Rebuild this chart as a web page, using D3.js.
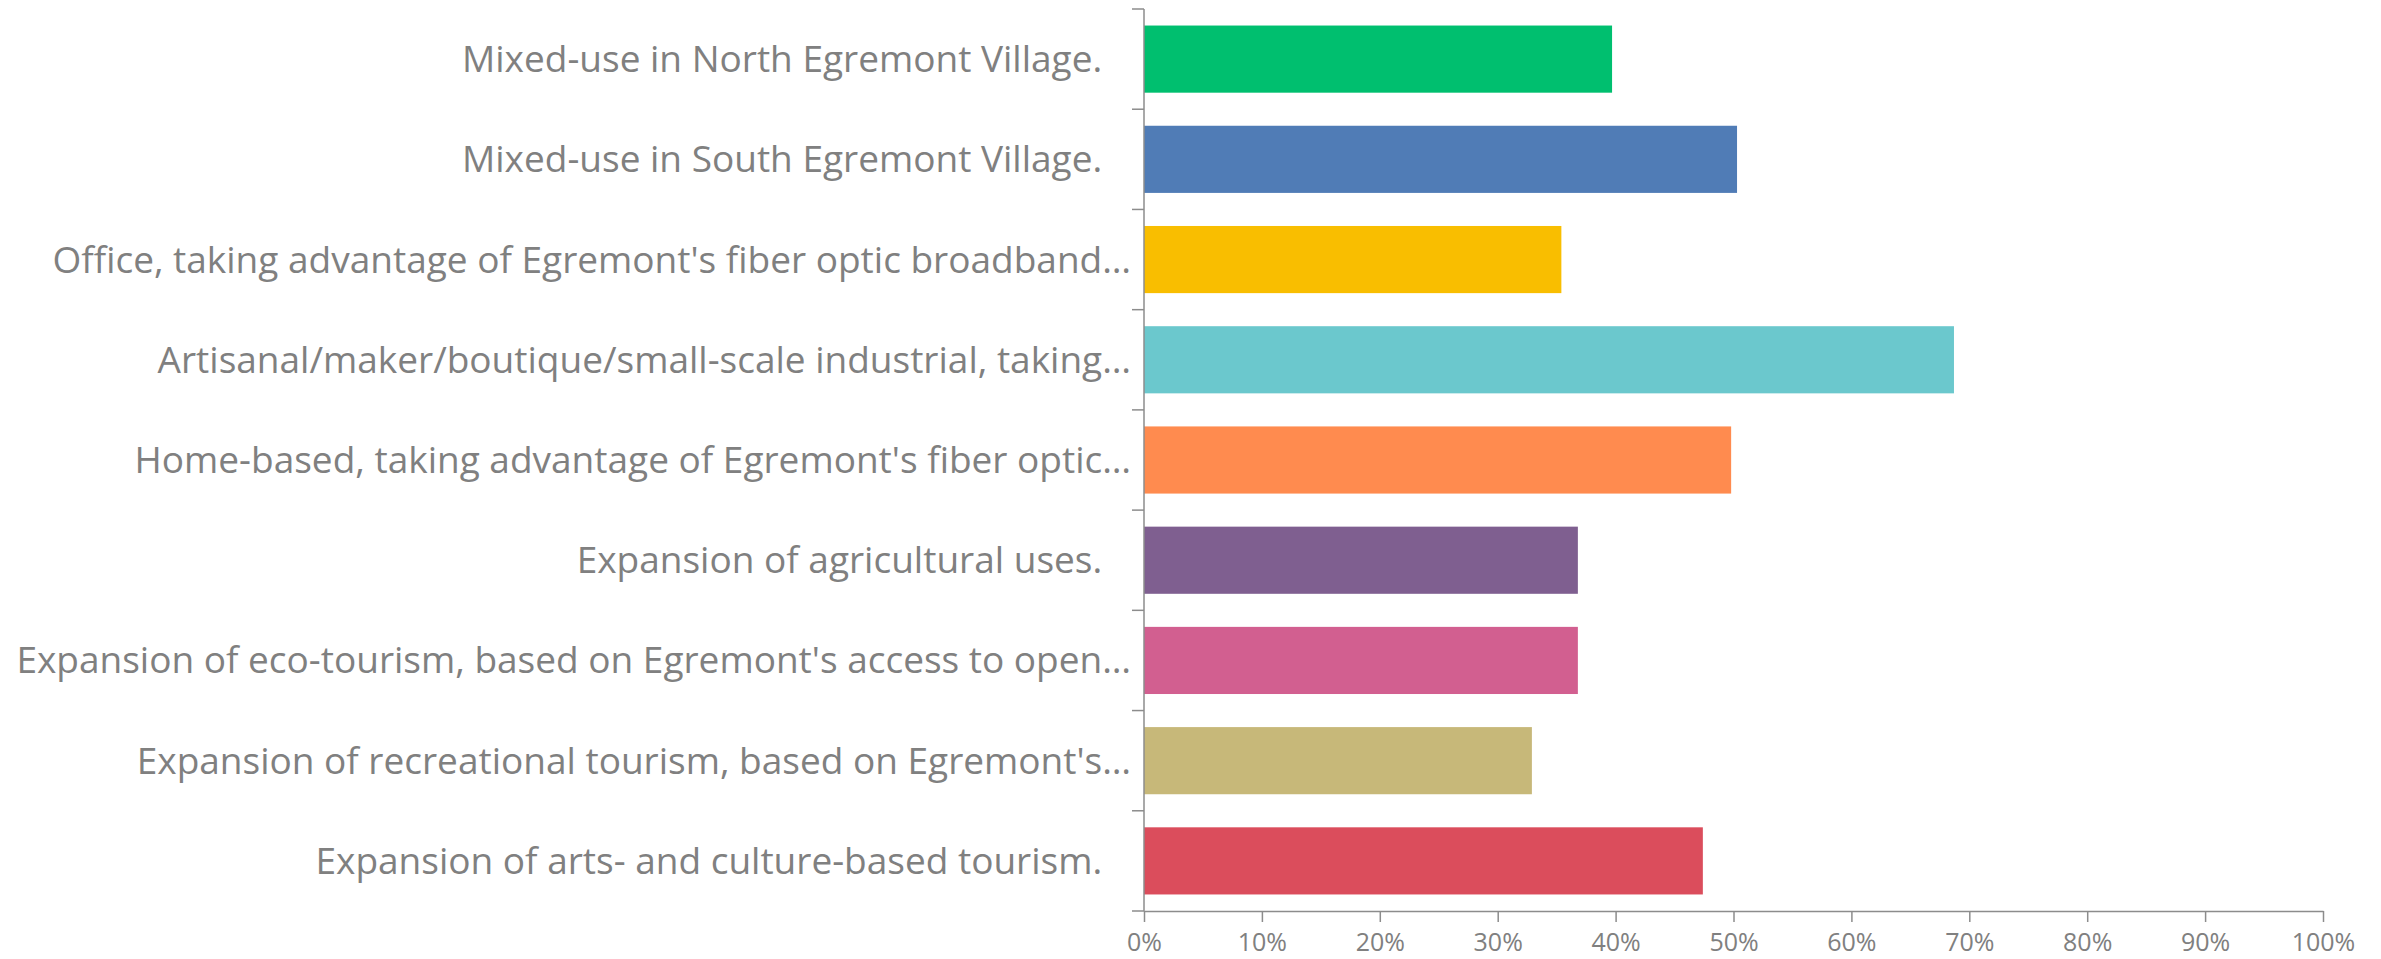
<!DOCTYPE html>
<html>
<head>
<meta charset="utf-8">
<script src="https://cdn.jsdelivr.net/npm/d3@7"></script>
<style>
  html, body { margin: 0; padding: 0; background: #fff; }
  svg { display: block; }
  .label { font-family: 'Open Sans', sans-serif; fill: #808080; white-space: pre; }
  .x-axis text { font-family: 'Open Sans', sans-serif; fill: #808080; }
</style>
</head>
<body>
<svg></svg>
<script>
const categories = [
  'Mixed-use in North Egremont Village.   ',
  'Mixed-use in South Egremont Village.   ',
  "Office, taking advantage of Egremont's fiber optic broadband…",
  'Artisanal/maker/boutique/small-scale industrial, taking…',
  "Home-based, taking advantage of Egremont's fiber optic…",
  'Expansion of agricultural uses.   ',
  "Expansion of eco-tourism, based on Egremont's access to open…",
  "Expansion of recreational tourism, based on Egremont's…",
  'Expansion of arts- and culture-based tourism.   ',
];
const values = [0.397, 0.503, 0.354, 0.687, 0.498, 0.368, 0.368, 0.329, 0.474];
const colors = ['#00bf6f', '#507cb6', '#f9be00', '#6bc8cd', '#ff8b4f', '#7f5f90', '#d25f90', '#c7b879', '#db4d5c'];
const xTicks = [0, 0.1, 0.2, 0.3, 0.4, 0.5, 0.6, 0.7, 0.8, 0.9, 1];

const width = 2381;
const height = 959;
const margin = { top: 9, right: 58, bottom: 48, left: 1144 };

const svg = d3.select('svg')
  .attr('width', width)
  .attr('height', height);

const x = d3.scaleLinear()
  .domain([0, 1])
  .range([margin.left, width - margin.right]);

const y = d3.scaleBand()
  .domain(categories)
  .range([margin.top, height - margin.bottom])
  .paddingInner(0.33)
  .paddingOuter(0.165);

// bars
svg.append('g')
  .selectAll('rect')
  .data(categories)
  .join('rect')
  .attr('x', x(0))
  .attr('y', d => y(d))
  .attr('width', (d, i) => x(values[i]) - x(0))
  .attr('height', y.bandwidth())
  .attr('fill', (d, i) => colors[i]);

// category labels
svg.append('g')
  .selectAll('text')
  .data(categories)
  .join('text')
  .attr('class', 'label')
  .attr('x', x(0) - 13)
  .attr('y', d => y(d) + y.bandwidth() / 2)
  .attr('dy', '0.35em')
  .attr('text-anchor', 'end')
  .style('font-size', '37px')
  .text(d => d);

// y axis: line with ticks between categories
const [y0, y1] = y.range();
const bounds = d3.range(categories.length + 1).map(i => y0 + i * y.step());
const yAxis = svg.append('g').attr('class', 'y-axis');
yAxis.append('line')
  .attr('x1', x(0)).attr('x2', x(0))
  .attr('y1', y0).attr('y2', y1)
  .attr('stroke', '#8c8c8c')
  .attr('stroke-width', 1.5);
yAxis.selectAll('.tick')
  .data(bounds)
  .join('line')
  .attr('class', 'tick')
  .attr('x1', x(0) - 12).attr('x2', x(0))
  .attr('y1', d => d).attr('y2', d => d)
  .attr('stroke', '#8c8c8c')
  .attr('stroke-width', 1.5);

// x axis
const xAxis = svg.append('g')
  .attr('class', 'x-axis')
  .attr('transform', `translate(0,${y1})`)
  .call(d3.axisBottom(x)
    .tickValues(xTicks)
    .tickFormat(d3.format('.0%'))
    .tickSize(11)
    .tickSizeOuter(0)
    .tickPadding(11));

xAxis.select('.domain').attr('stroke', '#8c8c8c').attr('stroke-width', 1.5);
xAxis.selectAll('.tick line').attr('stroke', '#8c8c8c').attr('stroke-width', 1.5);
xAxis.selectAll('.tick text').style('font-size', '25px');
</script>
</body>
</html>
